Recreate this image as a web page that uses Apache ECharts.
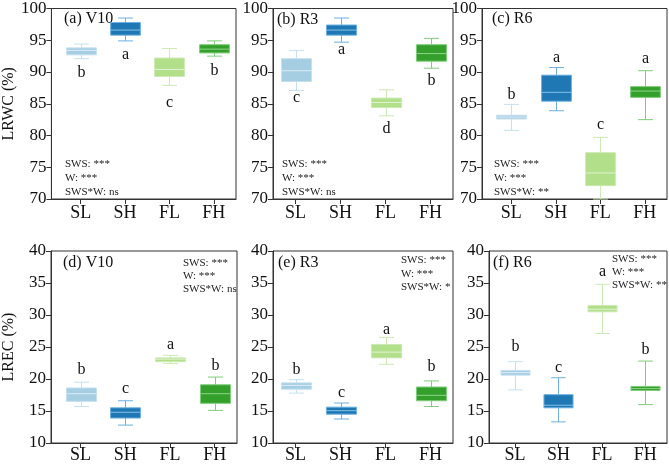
<!DOCTYPE html>
<html><head><meta charset="utf-8">
<script src="https://cdn.jsdelivr.net/npm/echarts@6/dist/echarts.min.js"></script>
<style>html,body{margin:0;padding:0;background:#fff}#c{width:669px;height:465px}</style>
</head><body><div id="c"></div>
<script>
// ---------- data ----------
const categories = ['SL', 'SH', 'FL', 'FH'];
// each box: [min, Q1, median, Q3, max]
const lrwcV10 = [[92.1, 92.7, 93.4, 93.8, 94.4], [94.9, 95.8, 96.6, 97.8, 98.5], [87.9, 89.3, 90.4, 92.2, 93.7], [92.5, 93.0, 93.6, 94.3, 94.9]];
const lrwcR3  = [[87.1, 88.5, 90.2, 92.1, 93.4], [94.7, 95.8, 96.6, 97.4, 98.5], [83.1, 84.4, 85.2, 85.9, 87.2], [90.6, 91.7, 92.9, 94.3, 95.3]];
const lrwcR6  = [[80.8, 82.6, 82.9, 83.2, 84.9], [83.9, 85.4, 86.8, 89.5, 90.7], [70.0, 72.1, 74.1, 77.3, 79.7], [82.5, 86.0, 87.0, 87.7, 90.2]];
const lrecV10 = [[15.7, 16.5, 17.7, 18.6, 19.5], [12.8, 13.9, 14.8, 15.5, 16.6], [22.4, 22.7, 23.1, 23.3, 23.7], [15.1, 16.2, 17.7, 19.1, 20.3]];
const lrecR3  = [[17.8, 18.4, 19.0, 19.4, 19.9], [13.75, 14.5, 15.05, 15.6, 16.25], [22.3, 23.3, 24.2, 25.4, 26.5], [15.7, 16.6, 17.45, 18.75, 19.7]];
const lrecR6  = [[18.3, 20.6, 21.0, 21.35, 22.7], [13.3, 15.5, 15.9, 17.55, 20.2], [27.1, 30.5, 30.9, 31.5, 34.8], [16.0, 18.2, 18.5, 18.85, 22.8]];
// significance letters and the value at which each is written
const lettersV10a = ['b', 'a', 'c', 'b'];  const letterAtV10a = [89.9, 92.7, 85.2, 90.2];
const lettersR3a  = ['c', 'a', 'd', 'b'];  const letterAtR3a  = [85.9, 93.5, 81.1, 88.6];
const lettersR6a  = ['b', 'a', 'c', 'a'];  const letterAtR6a  = [86.4, 92.2, 81.7, 92.1];
const lettersV10e = ['b', 'c', 'a', 'b'];  const letterAtV10e = [21.5, 18.5, 25.3, 22.1];
const lettersR3e  = ['b', 'c', 'a', 'b'];  const letterAtR3e  = [21.5, 17.8, 27.7, 21.9];
const lettersR6e  = ['b', 'c', 'a', 'b'];  const letterAtR6e  = [25.0, 21.8, 36.7, 24.6];
const titles = ['(a) V10', '(b) R3', '(c) R6', '(d) V10', '(e) R3', '(f) R6'];
const statsText = [
  ['SWS: ***', 'W: ***', 'SWS*W: ns'],
  ['SWS: ***', 'W: ***', 'SWS*W: ns'],
  ['SWS: ***', 'W: ***', 'SWS*W: **'],
  ['SWS: ***', 'W: ***', 'SWS*W: ns'],
  ['SWS: ***', 'W: ***', 'SWS*W: *'],
  ['SWS: ***', 'W: ***', 'SWS*W: **']
];
const yRangeLRWC = [70, 100];
const yRangeLREC = [10, 40];

// ---------- styles / layout ----------
const FONT = '"Liberation Serif", "Times New Roman", serif';
const fills = ['#a6cee3', '#1f78b4', '#b2df8a', '#33a02c'];
const strokes = ['#c6e0f0', '#6cb0e2', '#cde9b4', '#80cc7b'];
const medians = ['#dcecf7', '#86bfe8', '#e2f3d3', '#8fd48a'];

const panels = [
  { grid: { left: 51, top: 7, width: 185, height: 192 }, xr: [0.34, 4.5], y: yRangeLRWC, data: lrwcV10, letters: lettersV10a, at: letterAtV10a, name: 'LRWC (%)',
    title: [64, 19], stats: [65, 178, 14], statAlign: 'left' },
  { grid: { left: 273, top: 7, width: 180, height: 192 }, xr: [0.5, 4.5], y: yRangeLRWC, data: lrwcR3, letters: lettersR3a, at: letterAtR3a,
    title: [277, 20], stats: [282, 178, 14], statAlign: 'left' },
  { grid: { left: 482, top: 7, width: 185, height: 192 }, xr: [0.34, 4.5], y: yRangeLRWC, data: lrwcR6, letters: lettersR6a, at: letterAtR6a,
    title: [492, 19], stats: [494, 178, 14], statAlign: 'left' },
  { grid: { left: 51, top: 251, width: 186, height: 192 }, xr: [0.34, 4.5], y: yRangeLREC, data: lrecV10, letters: lettersV10e, at: letterAtV10e, name: 'LREC (%)',
    title: [63, 263], stats: [183, 276, 13.3], statAlign: 'left' },
  { grid: { left: 273, top: 251, width: 180, height: 192 }, xr: [0.5, 4.5], y: yRangeLREC, data: lrecR3, letters: lettersR3e, at: letterAtR3e,
    title: [278, 263], stats: [401, 273.7, 13.2], statAlign: 'left' },
  { grid: { left: 489, top: 251, width: 178, height: 192 }, xr: [0.4, 4.5], y: yRangeLREC, data: lrecR6, letters: lettersR6e, at: letterAtR6e,
    title: [493, 263], stats: [612, 272.3, 13.3], statAlign: 'left' }
];

function makeRender(p) {
  return function (params, api) {
    const idx = params.dataIndex;
    const xv = api.value(0);
    const half = api.size([1, 0])[0] * 0.335;
    const cap = half * 0.5;
    const xc = Math.round(api.coord([xv, api.value(1)])[0]) + 0.5;
    const y = k => api.coord([xv, api.value(k)])[1];
    const yMin = y(1), yQ1 = y(2), yMed = y(3), yQ3 = y(4), yMax = y(5), yLet = y(6);
    const stroke = strokes[idx], fill = fills[idx];
    const ls = { stroke: stroke, lineWidth: 1 };
    return {
      type: 'group',
      children: [
        { type: 'line', shape: { x1: xc, y1: yMax, x2: xc, y2: yQ3 }, style: ls },
        { type: 'line', shape: { x1: xc, y1: yQ1, x2: xc, y2: yMin }, style: ls },
        { type: 'line', shape: { x1: xc - cap, y1: yMax, x2: xc + cap, y2: yMax }, style: ls },
        { type: 'line', shape: { x1: xc - cap, y1: yMin, x2: xc + cap, y2: yMin }, style: ls },
        { type: 'rect', shape: { x: xc - half, y: yQ3, width: 2 * half, height: yQ1 - yQ3 }, style: { fill: fill, stroke: stroke, lineWidth: 1 } },
        { type: 'line', shape: { x1: xc - half, y1: yMed, x2: xc + half, y2: yMed }, style: { stroke: medians[idx], lineWidth: 1 } },
        { type: 'text', style: { text: p.letters[idx], x: xc, y: yLet, align: 'center', verticalAlign: 'middle',
            fontSize: 16, fontFamily: FONT, fill: '#111' } }
      ]
    };
  };
}

const option = {
  animation: false,
  backgroundColor: '#fff',
  grid: panels.map(p => Object.assign({ show: true, borderColor: '#333', borderWidth: 1, backgroundColor: 'transparent', containLabel: false }, p.grid)),
  xAxis: panels.map((p, i) => ({
    type: 'value', gridIndex: i, min: p.xr[0], max: p.xr[1],
    axisLine: { show: true, lineStyle: { color: '#333', width: 1 } },
    axisTick: { show: true, length: 5, lineStyle: { color: '#333' }, customValues: [1, 2, 3, 4] },
    axisLabel: { customValues: [1, 2, 3, 4], formatter: v => categories[Math.round(v) - 1] || '',
      fontSize: 18, fontFamily: FONT, color: '#111', margin: i < 3 ? 5 : 3 },
    splitLine: { show: false }
  })),
  yAxis: panels.map((p, i) => ({
    type: 'value', gridIndex: i, min: p.y[0], max: p.y[1], interval: 5,
    name: p.name || '', nameLocation: 'middle', nameGap: 34,
    nameTextStyle: { fontSize: 16, fontFamily: FONT, color: '#111' },
    axisLine: { show: true, lineStyle: { color: '#333', width: 1 } },
    axisTick: { show: true, length: 5, lineStyle: { color: '#333' } },
    axisLabel: { fontSize: 17, fontFamily: FONT, color: '#111', margin: 5 },
    splitLine: { show: false }
  })),
  series: panels.map((p, i) => ({
    type: 'custom', xAxisIndex: i, yAxisIndex: i, clip: false,
    renderItem: makeRender(p),
    encode: { x: 0, y: [1, 2, 3, 4, 5] },
    data: p.data.map((b, k) => [k + 1].concat(b, [p.at[k]]))
  })),
  graphic: [].concat(
    panels.map((p, i) => ({
      type: 'text', x: p.title[0], y: p.title[1], silent: true,
      style: { text: titles[i], fontSize: 16, fontFamily: FONT, fill: '#111', align: 'left', verticalAlign: 'middle' }
    })),
    panels.map((p, i) => ({
      type: 'text', x: p.stats[0], y: p.stats[1], silent: true,
      style: { text: statsText[i].join('\n'), fontSize: 11, lineHeight: p.stats[2], fontFamily: FONT, fill: '#222',
        align: p.statAlign, verticalAlign: 'middle' }
    }))
  )
};

const chart = echarts.init(document.getElementById('c'), null, { renderer: 'canvas' });
chart.setOption(option);
</script>
</body></html>
